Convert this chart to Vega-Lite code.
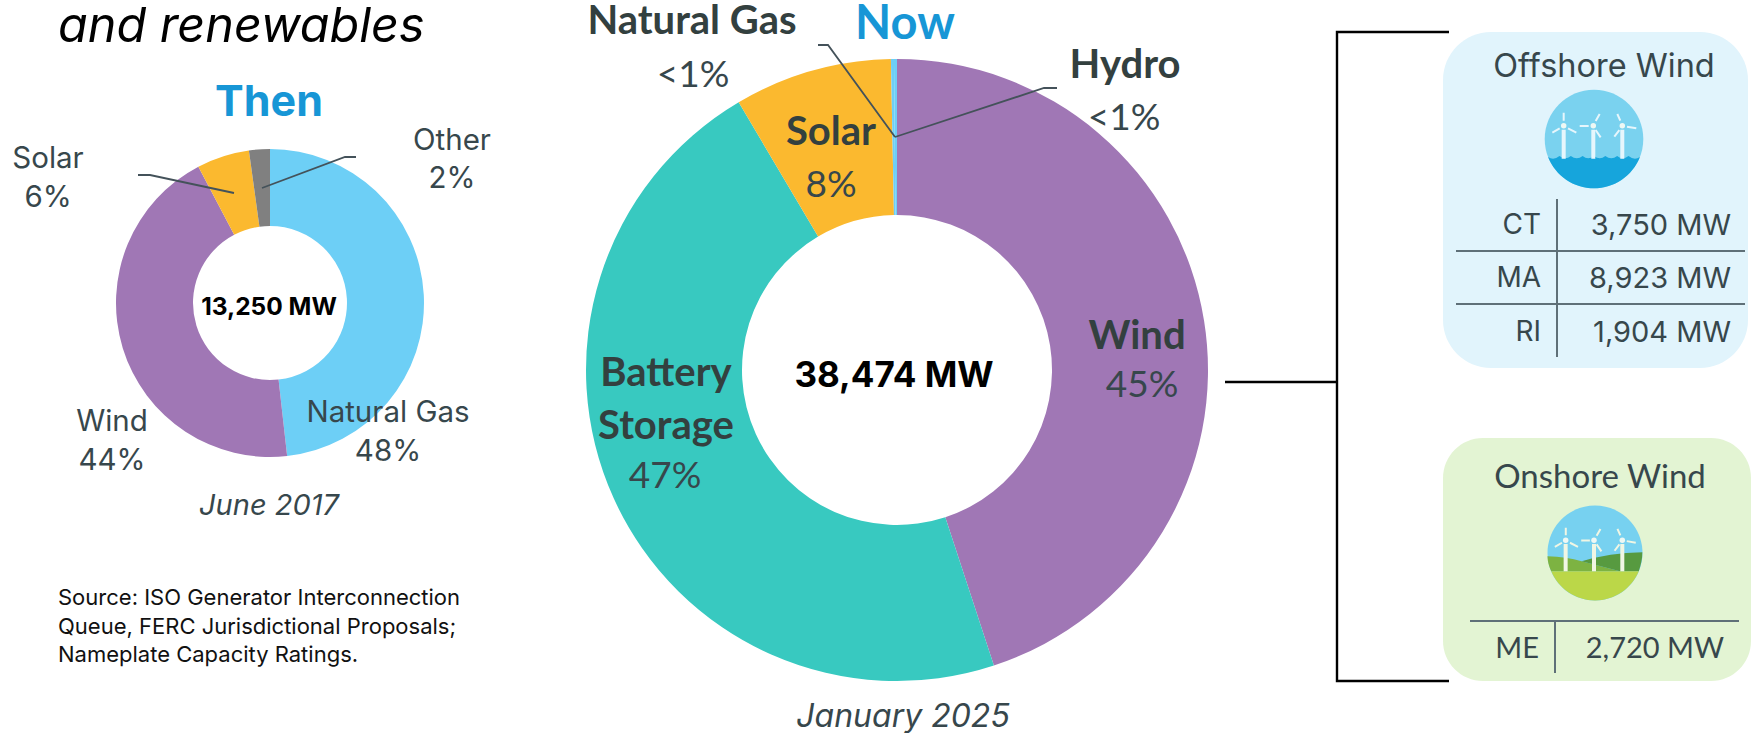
{
"$schema":"https://vega.github.io/schema/vega-lite/v6.json",
"width":1752,"height":733,"padding":0,"autosize":{"type":"none"},"background":"white",
"config":{"view":{"stroke":null},"text":{"font":"Inter"}},
"datasets":{
"thenShares":[{"tech":"Natural Gas","mw":6390,"o":1,"x":270,"y":303},{"tech":"Wind","mw":5840,"o":2,"x":270,"y":303},{"tech":"Solar","mw":730,"o":3,"x":270,"y":303},{"tech":"Other","mw":290,"o":4,"x":270,"y":303}],
"nowShares":[{"tech":"Wind","mw":17297,"o":1,"x":897,"y":370},{"tech":"Battery Storage","mw":17907,"o":2,"x":897,"y":370},{"tech":"Solar","mw":3150,"o":3,"x":897,"y":370},{"tech":"Natural Gas","mw":60,"o":4,"x":897,"y":370},{"tech":"Hydro","mw":60,"o":5,"x":897,"y":370}],
"leaders":[
{"g":"a","i":1,"x":138,"y":175},{"g":"a","i":2,"x":150,"y":175},{"g":"a","i":3,"x":234,"y":193},
{"g":"b","i":1,"x":356,"y":157},{"g":"b","i":2,"x":345,"y":157},{"g":"b","i":3,"x":262,"y":188},
{"g":"c","i":1,"x":818,"y":45},{"g":"c","i":2,"x":828,"y":45},{"g":"c","i":3,"x":895,"y":137},
{"g":"d","i":1,"x":1057,"y":88},{"g":"d","i":2,"x":1044,"y":88},{"g":"d","i":3,"x":895,"y":137}],
"bracket":[
{"g":"a","i":1,"x":1449,"y":32},{"g":"a","i":2,"x":1337,"y":32},{"g":"a","i":3,"x":1337,"y":681},{"g":"a","i":4,"x":1449,"y":681},
{"g":"b","i":1,"x":1225,"y":382},{"g":"b","i":2,"x":1337,"y":382}],
"grid":[
{"x":1456,"x2":1745,"y":251,"y2":251},{"x":1456,"x2":1745,"y":304,"y2":304},{"x":1557,"x2":1557,"y":199,"y2":357},
{"x":1470,"x2":1739,"y":621,"y2":621},{"x":1555,"x2":1555,"y":621,"y2":673}],
"mutedLabels":[
{"t":"Solar","x":48,"y":159},{"t":"6%","x":48,"y":198},{"t":"Other","x":452,"y":141},{"t":"2%","x":452,"y":179},
{"t":"Natural Gas","x":388,"y":413},{"t":"48%","x":388,"y":452},{"t":"Wind","x":112,"y":422},{"t":"44%","x":112,"y":461}],
"nowBold":[
{"t":"Natural Gas","x":692,"y":22},{"t":"Hydro","x":1125,"y":66},{"t":"Solar","x":831,"y":133},{"t":"Wind","x":1137,"y":337},{"t":"Battery","x":666,"y":374},{"t":"Storage","x":666,"y":427}],
"nowPct":[
{"t":"<1%","x":693,"y":76},{"t":"<1%","x":1124,"y":119},{"t":"8%","x":831,"y":186},{"t":"45%","x":1142,"y":386},{"t":"47%","x":665,"y":477}],
"sourceNote":[
{"t":"Source: ISO Generator Interconnection","x":58,"y":598},{"t":"Queue, FERC Jurisdictional Proposals;","x":58,"y":627},{"t":"Nameplate Capacity Ratings.","x":58,"y":655}],
"states":[{"t":"CT","x":1541,"y":226},{"t":"MA","x":1541,"y":279},{"t":"RI","x":1541,"y":333}],
"capacity":[{"t":"3,750 MW","x":1731,"y":226},{"t":"8,923 MW","x":1731,"y":279},{"t":"1,904 MW","x":1731,"y":333}]
},
"encoding":{
"x":{"field":"x","type":"quantitative","scale":{"domain":[0,1752]},"axis":null},
"y":{"field":"y","type":"quantitative","scale":{"domain":[733,0]},"axis":null}
},
"layer":[
{"data":{"values":[{"panel":"Offshore Wind","x":1443,"x2":1748,"y":32,"y2":368}]},"mark":{"type":"rect","fill":"#E1F4FC","cornerRadius":48},"encoding":{"x2":{"field":"x2"},"y2":{"field":"y2"}}},
{"data":{"values":[{"panel":"Onshore Wind","x":1443,"x2":1751,"y":438,"y2":681}]},"mark":{"type":"rect","fill":"#E3F4D3","cornerRadius":40},"encoding":{"x2":{"field":"x2"},"y2":{"field":"y2"}}},
{"data":{"name":"thenShares"},"transform":[{"stack":"mw","groupby":[],"sort":[{"field":"o"}],"offset":"normalize","as":["a0","a1"]}],"mark":{"type":"arc","outerRadius":154,"innerRadius":77},
 "encoding":{"theta":{"field":"a0","type":"quantitative","stack":null,"scale":{"domain":[0,1],"range":[0,6.28319]}},"theta2":{"field":"a1"},
 "color":{"field":"tech","type":"nominal","legend":null,"scale":{"domain":["Natural Gas","Wind","Solar","Other","Battery Storage","Hydro"],"range":["#6DCFF6","#A077B5","#FBB92F","#808080","#38C9C0","#6DCFF6"]}}}},
{"data":{"name":"nowShares"},"transform":[{"stack":"mw","groupby":[],"sort":[{"field":"o"}],"offset":"normalize","as":["a0","a1"]}],"mark":{"type":"arc","outerRadius":311,"innerRadius":155},
 "encoding":{"theta":{"field":"a0","type":"quantitative","stack":null,"scale":{"domain":[0,1],"range":[0,6.28319]}},"theta2":{"field":"a1"},
 "color":{"field":"tech","type":"nominal","legend":null}}},
{"data":{"name":"leaders"},"mark":{"type":"line","stroke":"#44525A","strokeWidth":1.8},"encoding":{"detail":{"field":"g"},"order":{"field":"i"}}},
{"data":{"name":"bracket"},"mark":{"type":"line","stroke":"#000000","strokeWidth":2.4},"encoding":{"detail":{"field":"g"},"order":{"field":"i"}}},
{"data":{"name":"grid"},"mark":{"type":"rule","stroke":"#5F7078","strokeWidth":2},"encoding":{"x2":{"field":"x2"},"y2":{"field":"y2"}}},
{"data":{"values":[{"icon":"Offshore sky","x":1594,"y":139}]},"mark":{"type":"point","filled":true,"opacity":1,"fill":"#7AD2EF","size":9722,"shape":"M-1 0C-1 -.5523 -.5523 -1 0 -1C.5523 -1 1 -.5523 1 0C1 .5523 .5523 1 0 1C-.5523 1 -1 .5523 -1 0Z"}},
{"data":{"values":[{"icon":"Offshore water","x":1594,"y":139}]},"mark":{"type":"point","filled":true,"opacity":1,"fill":"#16A5DC","size":9722,"shape":"M-.931 .365Q-.82 .44 -.70 .345Q-.58 .44 -.47 .345Q-.35 .44 -.23 .345Q-.12 .44 0 .345Q.12 .44 .23 .345Q.35 .44 .47 .345Q.58 .44 .70 .345Q.82 .44 .931 .365C.781 .748 .411 1 0 1C-.411 1 -.781 .748 -.931 .365Z"}},
{"data":{"values":[{"icon":"Offshore towers","x":1594,"y":139}]},"mark":{"type":"point","filled":false,"opacity":1,"stroke":"#E6F6FC","strokeWidth":4,"size":9722,"shape":"M-.615 -.19L-.615 .40M-.014 -.19L-.014 .40M.574 -.19L.574 .40"}},
{"data":{"values":[{"icon":"Offshore blades","x":1594,"y":139}]},"mark":{"type":"point","filled":false,"opacity":1,"stroke":"#E6F6FC","strokeWidth":2,"size":9722,"shape":"M-.615 -.534L-.615 -.372M-.845 -.128L-.696 -.216M-.358 -.128L-.527 -.216M-.29 -.264L-.108 -.264M.115 -.507L.034 -.365M.135 -.034L.034 -.182M.473 -.507L.534 -.372M.858 -.216L.669 -.25M.412 -.047L.514 -.182"}},
{"data":{"values":[{"icon":"Onshore sky","x":1595,"y":553}]},"mark":{"type":"point","filled":true,"opacity":1,"fill":"#77D1F0","size":9025,"shape":"M-1 0C-1 -.5523 -.5523 -1 0 -1C.5523 -1 1 -.5523 1 0C1 .5523 .5523 1 0 1C-.5523 1 -1 .5523 -1 0Z"}},
{"data":{"values":[{"icon":"Onshore left hill","x":1595,"y":553}]},"mark":{"type":"point","filled":true,"opacity":1,"fill":"#7DB342","size":9025,"shape":"M-1 .07Q-.6 .08 -.28 .175L.526 .386L-.922 .386C-.97 .28 -1 .18 -1 .07Z"}},
{"data":{"values":[{"icon":"Onshore right hill","x":1595,"y":553}]},"mark":{"type":"point","filled":true,"opacity":1,"fill":"#579A40","size":9025,"shape":"M-.28 .175Q.3 0 .996 -.014C1 .13 .96 .26 .922 .386L.526 .386Z"}},
{"data":{"values":[{"icon":"Onshore ground","x":1595,"y":553}]},"mark":{"type":"point","filled":true,"opacity":1,"fill":"#BBD748","size":9025,"shape":"M-.922 .386L.922 .386C.766 .758 .4035 1 0 1C-.4035 1 -.766 .758 -.922 .386Z"}},
{"data":{"values":[{"icon":"Onshore towers","x":1595,"y":553}]},"mark":{"type":"point","filled":false,"opacity":1,"stroke":"#F0F6E4","strokeWidth":4,"size":9025,"shape":"M-.618 -.19L-.618 .386M-.021 -.19L-.021 .386M.575 -.19L.575 .386"}},
{"data":{"values":[{"icon":"Onshore blades","x":1595,"y":553}]},"mark":{"type":"point","filled":false,"opacity":1,"stroke":"#F0F6E4","strokeWidth":2,"size":9025,"shape":"M-.615 -.534L-.615 -.372M-.845 -.128L-.696 -.216M-.358 -.128L-.527 -.216M-.29 -.264L-.108 -.264M.115 -.507L.034 -.365M.135 -.034L.034 -.182M.473 -.507L.534 -.372M.858 -.216L.669 -.25M.412 -.047L.514 -.182"}},
{"data":{"values":[{"hub":1,"x":1563.7,"y":125.7},{"hub":2,"x":1593.3,"y":125.7},{"hub":3,"x":1622.3,"y":125.7},{"hub":4,"x":1565.7,"y":540.3},{"hub":5,"x":1594,"y":540.3},{"hub":6,"x":1622.3,"y":540.3}]},"mark":{"type":"circle","opacity":1,"fill":"#EEF8F4","size":30}},
{"data":{"values":[{"t":"and renewables","x":58,"y":27}]},"mark":{"type":"text","align":"left","baseline":"middle","fontStyle":"italic","fontSize":48.5,"fill":"#000000"},"encoding":{"text":{"field":"t"}}},
{"data":{"values":[{"t":"Then","x":269,"y":103}]},"mark":{"type":"text","align":"center","baseline":"middle","fontWeight":"bold","fontSize":43,"fill":"#1796D6"},"encoding":{"text":{"field":"t"}}},
{"data":{"values":[{"t":"Now","x":905,"y":25}]},"mark":{"type":"text","align":"center","baseline":"middle","font":"Lato","fontWeight":"bold","fontSize":47,"fill":"#1796D6"},"encoding":{"text":{"field":"t"}}},
{"data":{"values":[{"t":"13,250 MW","x":269,"y":308}]},"mark":{"type":"text","align":"center","baseline":"middle","fontWeight":"bold","fontSize":24.5,"fill":"#000000"},"encoding":{"text":{"field":"t"}}},
{"data":{"values":[{"t":"38,474 MW","x":894,"y":376}]},"mark":{"type":"text","align":"center","baseline":"middle","fontWeight":"bold","fontSize":35,"fill":"#000000"},"encoding":{"text":{"field":"t"}}},
{"data":{"name":"mutedLabels"},"mark":{"type":"text","align":"center","baseline":"middle","fontSize":29.5,"fill":"#37474C"},"encoding":{"text":{"field":"t"}}},
{"data":{"name":"nowBold"},"mark":{"type":"text","align":"center","baseline":"middle","font":"Lato","fontWeight":"bold","fontSize":40,"fill":"#33403F"},"encoding":{"text":{"field":"t"}}},
{"data":{"name":"nowPct"},"mark":{"type":"text","align":"center","baseline":"middle","font":"Lato","fontSize":37,"fill":"#37474C"},"encoding":{"text":{"field":"t"}}},
{"data":{"values":[{"t":"June 2017","x":269,"y":506}]},"mark":{"type":"text","align":"center","baseline":"middle","fontStyle":"italic","fontSize":29,"fill":"#37474C"},"encoding":{"text":{"field":"t"}}},
{"data":{"values":[{"t":"January 2025","x":903,"y":717}]},"mark":{"type":"text","align":"center","baseline":"middle","fontStyle":"italic","fontSize":32,"fill":"#37474C"},"encoding":{"text":{"field":"t"}}},
{"data":{"name":"sourceNote"},"mark":{"type":"text","align":"left","baseline":"middle","fontSize":22,"fill":"#111111"},"encoding":{"text":{"field":"t"}}},
{"data":{"values":[{"t":"Offshore Wind","x":1604,"y":67}]},"mark":{"type":"text","align":"center","baseline":"middle","fontSize":32.5,"fill":"#37474C"},"encoding":{"text":{"field":"t"}}},
{"data":{"values":[{"t":"Onshore Wind","x":1600,"y":478}]},"mark":{"type":"text","align":"center","baseline":"middle","font":"Lato","fontSize":33,"fill":"#37474C"},"encoding":{"text":{"field":"t"}}},
{"data":{"name":"states"},"mark":{"type":"text","align":"right","baseline":"middle","fontSize":28,"fill":"#37474C"},"encoding":{"text":{"field":"t"}}},
{"data":{"name":"capacity"},"mark":{"type":"text","align":"right","baseline":"middle","fontSize":29,"fill":"#37474C"},"encoding":{"text":{"field":"t"}}},
{"data":{"values":[{"t":"ME","x":1539,"y":649}]},"mark":{"type":"text","align":"right","baseline":"middle","font":"Lato","fontSize":29,"fill":"#37474C"},"encoding":{"text":{"field":"t"}}},
{"data":{"values":[{"t":"2,720 MW","x":1724,"y":649}]},"mark":{"type":"text","align":"right","baseline":"middle","font":"Lato","fontSize":29,"fill":"#37474C"},"encoding":{"text":{"field":"t"}}}
]
}
